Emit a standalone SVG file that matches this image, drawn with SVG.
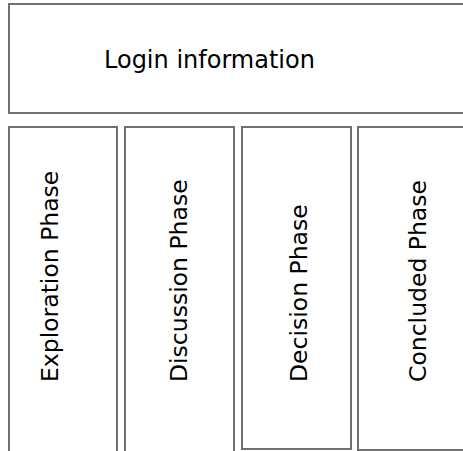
<svg xmlns="http://www.w3.org/2000/svg" width="463" height="451" viewBox="0 0 463 451">
<style>
.box{fill:#ffffff;stroke:#707070;stroke-width:2}
.lbl{font-family:"DejaVu Sans",Verdana,sans-serif;font-size:23.5px;fill:#000000}
</style>
<rect width="463" height="451" fill="#ffffff"/>
<g id="login">
<rect class="box" x="9" y="4" width="470" height="109"/>
<text class="lbl" x="104" y="68" style="font-size:24px">Login information</text>
</g>
<g id="exploration">
<rect class="box" x="9" y="127" width="108" height="340"/>
<text class="lbl" transform="translate(57.5,382) rotate(-90)">Exploration Phase</text>
</g>
<g id="discussion">
<rect class="box" x="125" y="127" width="109" height="340"/>
<text class="lbl" transform="translate(187,382) rotate(-90)">Discussion Phase</text>
</g>
<g id="decision">
<rect class="box" x="242" y="127" width="109" height="322"/>
<text class="lbl" transform="translate(307,382) rotate(-90)">Decision Phase</text>
</g>
<g id="concluded">
<rect class="box" x="358" y="127" width="120" height="323"/>
<text class="lbl" transform="translate(426,382) rotate(-90)">Concluded Phase</text>
</g>
<g id="connectors"/>
</svg>
